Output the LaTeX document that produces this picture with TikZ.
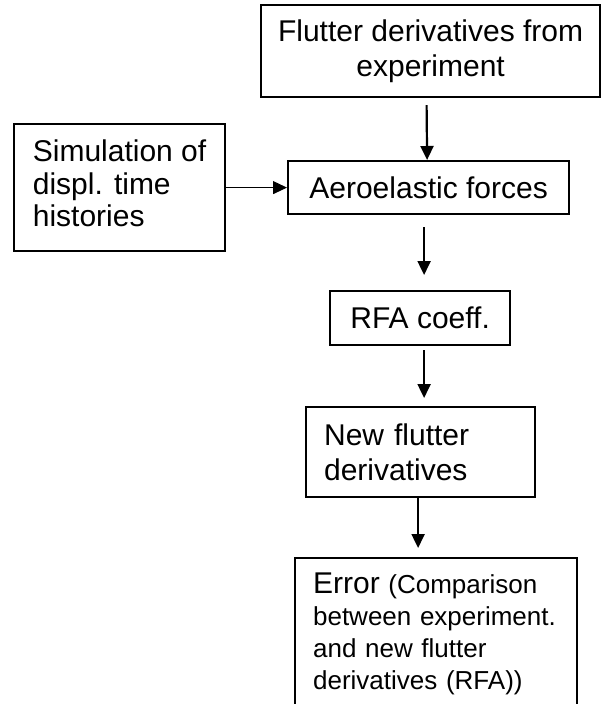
\documentclass[tikz,border=0pt]{standalone}
\usepackage{fontspec}
\setmainfont{Liberation Sans}
\usetikzlibrary{arrows.meta, positioning, calc}

\tikzset{
  blockbox/.style={draw, line width=2.2pt, inner sep=0pt, anchor=north west, font=\fontsize{30}{33}\selectfont},
  flowarr/.style={line width=2.2pt, -{Triangle[length=14pt,width=13pt]}},
}

\begin{document}
\begin{tikzpicture}[x=1pt, y=-1pt]
    \useasboundingbox (0,0) rectangle (601,704);
    % boxes
    \node[blockbox, minimum width=339pt, minimum height=92pt, align=center, font=\fontsize{30}{35}\selectfont] (flutter) at (260,4) {Flutter derivatives from\\experiment};
    \node[blockbox, minimum width=211pt, minimum height=127pt, text depth=8pt, align=left, font=\fontsize{30}{32.5}\selectfont] (sim) at (13,123) {Simulation of\\displ. time\\histories};
    \node[blockbox, minimum width=281pt, minimum height=53pt] (aero) at (287,160) {Aeroelastic forces};
    \node[blockbox, minimum width=180pt, minimum height=54pt] (rfa) at (329,290) {RFA coeff.};
    \node[blockbox, minimum height=90pt, inner xsep=18pt, text width=193pt, align=left, font=\fontsize{30}{35}\selectfont] (newfd) at (305,406) {New flutter\\derivatives};
    \node[blockbox, inner xsep=18pt, inner ysep=14.5pt, text width=246pt, align=left, font=\fontsize{26}{32}\selectfont] (err) at (294,557) {{\fontsize{30}{32}\selectfont Error} (Comparison\\between experiment.\\and new flutter\\derivatives (RFA))};
    % arrows
    \draw[flowarr] ([xshift=-4pt,yshift=-7pt]flutter.south) -- ([xshift=-1.5pt]aero.north);
    \draw[flowarr, line width=1pt] (sim.east) -- (aero.west);
    \draw[flowarr] ([xshift=-4.5pt,yshift=-12pt]aero.south) -- ([xshift=4pt,yshift=15pt]rfa.north);
    \draw[flowarr] ([xshift=4pt,yshift=-4pt]rfa.south) -- ([xshift=3.5pt,yshift=8pt]newfd.north);
    \draw[flowarr] ([xshift=-2.5pt]newfd.south) -- ([xshift=-18pt,yshift=9pt]err.north);
\end{tikzpicture}
\end{document}
